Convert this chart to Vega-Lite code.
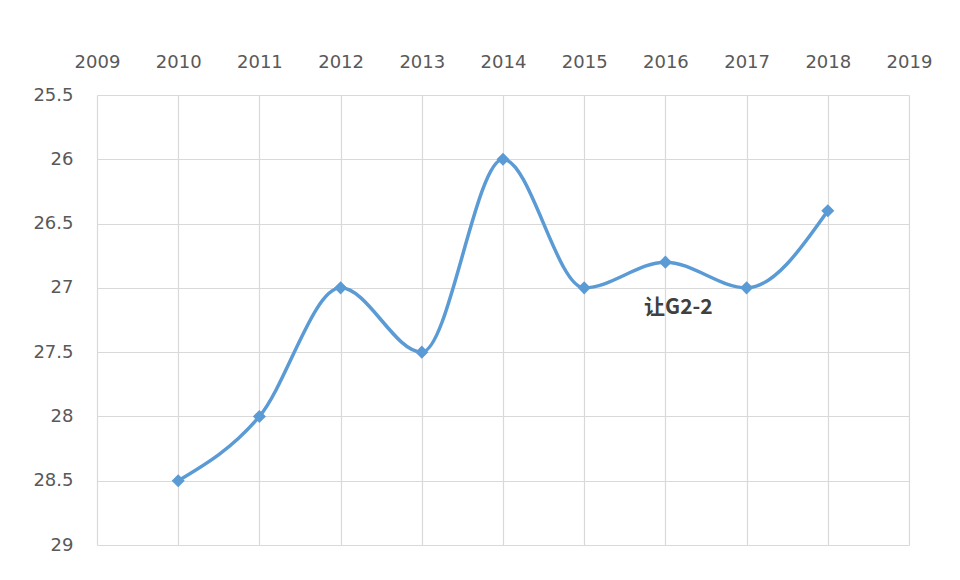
{
  "$schema": "https://vega.github.io/schema/vega-lite/v6.json",
  "width": 812,
  "height": 450,
  "autosize": {"type": "none"},
  "padding": {"left": 97, "top": 95, "right": 51, "bottom": 35},
  "background": "white",
  "config": {"view": {"stroke": null}},
  "datasets": {
    "series": [
      {"year": 2010, "value": 28.5},
      {"year": 2011, "value": 28.0},
      {"year": 2012, "value": 27.0},
      {"year": 2013, "value": 27.5},
      {"year": 2014, "value": 26.0},
      {"year": 2015, "value": 27.0},
      {"year": 2016, "value": 26.8},
      {"year": 2017, "value": 27.0},
      {"year": 2018, "value": 26.4}
    ],
    "notes": [
      {"year": 2016.16, "value": 27.16, "label": "让G2-2"}
    ]
  },
  "layer": [
    {
      "data": {"name": "series"},
      "mark": {"type": "line", "interpolate": "monotone", "stroke": "#5b9bd5", "strokeWidth": 3.5},
      "encoding": {
        "x": {
          "field": "year", "type": "quantitative",
          "scale": {"domain": [2009, 2019], "nice": false, "zero": false},
          "axis": {
            "orient": "top", "title": null, "values": [2009, 2010, 2011, 2012, 2013, 2014, 2015, 2016, 2017, 2018, 2019],
            "format": "d", "domain": false, "ticks": false, "labelPadding": 24,
            "labelFlush": false, "labelOverlap": false,
            "labelFont": "DejaVu Sans", "labelFontSize": 18, "labelFontWeight": "normal", "labelColor": "#595959",
            "gridColor": "#d9d9d9", "gridWidth": 1.2
          }
        },
        "y": {
          "field": "value", "type": "quantitative",
          "scale": {"domain": [25.5, 29], "reverse": true, "nice": false, "zero": false},
          "axis": {
            "title": null, "values": [25.5, 26, 26.5, 27, 27.5, 28, 28.5, 29],
            "format": "~g", "labelFlush": false, "labelOverlap": false,
            "domain": false, "ticks": false, "labelPadding": 24,
            "labelFont": "DejaVu Sans", "labelFontSize": 18, "labelColor": "#595959",
            "gridColor": "#d9d9d9", "gridWidth": 1.2
          }
        }
      }
    },
    {
      "data": {"name": "series"},
      "mark": {"type": "point", "shape": "diamond", "filled": true, "size": 170, "color": "#5b9bd5", "opacity": 1},
      "encoding": {
        "x": {"field": "year", "type": "quantitative"},
        "y": {"field": "value", "type": "quantitative"}
      }
    },
    {
      "data": {"name": "notes"},
      "mark": {"type": "text", "font": "Noto Sans CJK SC", "fontSize": 21, "fontWeight": "bold", "color": "#404040", "align": "center", "baseline": "middle"},
      "encoding": {
        "x": {"field": "year", "type": "quantitative"},
        "y": {"field": "value", "type": "quantitative"},
        "text": {"field": "label"}
      }
    }
  ]
}
